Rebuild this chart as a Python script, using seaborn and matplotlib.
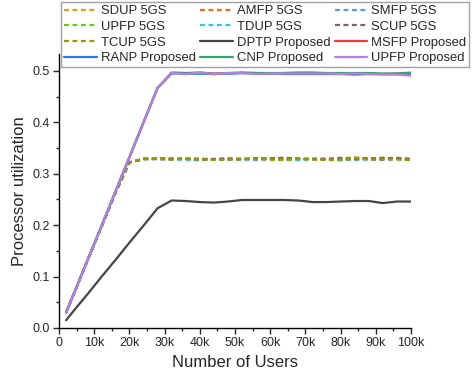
import numpy as np
import pandas as pd
import seaborn as sns
import matplotlib.pyplot as plt
from matplotlib.ticker import MultipleLocator, FuncFormatter

users = [2000, 4000, 8000, 12000, 16000, 20000, 24000, 28000, 32000, 36000, 40000, 44000, 48000,
         52000, 56000, 60000, 64000, 68000, 72000, 76000, 80000, 84000, 88000, 92000, 96000, 100000]

ramp_5gs = [0.030, 0.063, 0.130, 0.196, 0.262, 0.322]
sdup_5gs = ramp_5gs + [0.329, 0.330, 0.330, 0.329, 0.330, 0.328, 0.329, 0.329, 0.330, 0.330, 0.331, 0.329, 0.329, 0.328, 0.330, 0.332, 0.330, 0.331, 0.330, 0.328]
amfp_5gs = ramp_5gs + [0.328, 0.329, 0.329, 0.330, 0.329, 0.328, 0.329, 0.328, 0.330, 0.329, 0.327, 0.329, 0.328, 0.327, 0.326, 0.329, 0.330, 0.331, 0.329, 0.327]
smfp_5gs = ramp_5gs + [0.329, 0.328, 0.327, 0.328, 0.326, 0.328, 0.327, 0.328, 0.327, 0.328, 0.328, 0.327, 0.328, 0.329, 0.328, 0.327, 0.328, 0.327, 0.328, 0.328]
upfp_5gs = ramp_5gs + [0.329, 0.329, 0.328, 0.330, 0.328, 0.327, 0.328, 0.329, 0.329, 0.328, 0.327, 0.328, 0.329, 0.328, 0.327, 0.330, 0.328, 0.329, 0.329, 0.327]
tdup_5gs = ramp_5gs + [0.328, 0.330, 0.329, 0.328, 0.327, 0.328, 0.329, 0.328, 0.329, 0.329, 0.329, 0.328, 0.329, 0.329, 0.328, 0.330, 0.328, 0.329, 0.330, 0.329]
scup_5gs = ramp_5gs + [0.329, 0.330, 0.329, 0.329, 0.328, 0.329, 0.330, 0.329, 0.330, 0.330, 0.331, 0.330, 0.329, 0.329, 0.331, 0.329, 0.330, 0.330, 0.331, 0.329]
tcup_5gs = ramp_5gs + [0.330, 0.329, 0.328, 0.329, 0.328, 0.327, 0.328, 0.328, 0.329, 0.328, 0.328, 0.329, 0.328, 0.327, 0.328, 0.331, 0.328, 0.328, 0.328, 0.327]

dptp_prop = [0.015, 0.032, 0.065, 0.099, 0.132, 0.166, 0.199, 0.233, 0.248, 0.247, 0.245, 0.244, 0.246,
             0.249, 0.249, 0.249, 0.249, 0.248, 0.245, 0.245, 0.246, 0.247, 0.247, 0.243, 0.246, 0.246]
ramp_prop = [0.030, 0.063, 0.130, 0.197, 0.265, 0.332, 0.400, 0.467]
msfp_prop = ramp_prop + [0.497, 0.496, 0.497, 0.495, 0.496, 0.497, 0.496, 0.495, 0.496, 0.496, 0.496, 0.495, 0.496, 0.495, 0.495, 0.494, 0.495, 0.494]
ranp_prop = ramp_prop + [0.496, 0.495, 0.495, 0.494, 0.495, 0.496, 0.495, 0.495, 0.494, 0.494, 0.494, 0.494, 0.494, 0.493, 0.494, 0.494, 0.494, 0.493]
cnp_prop = ramp_prop + [0.495, 0.495, 0.495, 0.494, 0.495, 0.496, 0.496, 0.496, 0.496, 0.497, 0.497, 0.496, 0.496, 0.496, 0.496, 0.495, 0.495, 0.497]
upfp_prop = ramp_prop + [0.496, 0.494, 0.497, 0.494, 0.496, 0.496, 0.494, 0.495, 0.495, 0.495, 0.495, 0.495, 0.494, 0.495, 0.494, 0.493, 0.493, 0.491]

labels = ["SDUP 5GS", "AMFP 5GS", "SMFP 5GS", "UPFP 5GS", "TDUP 5GS", "SCUP 5GS", "TCUP 5GS",
          "DPTP Proposed", "MSFP Proposed", "RANP Proposed", "CNP Proposed", "UPFP Proposed"]
series = [sdup_5gs, amfp_5gs, smfp_5gs, upfp_5gs, tdup_5gs, scup_5gs, tcup_5gs,
          dptp_prop, msfp_prop, ranp_prop, cnp_prop, upfp_prop]
colors = ["#D4A216", "#F26B1D", "#5A9BD8", "#66CC1A", "#1FD0DA", "#8A5E5E", "#999900",
          "#454545", "#F03A3A", "#2D73E8", "#2EA86A", "#B77EE8"]

sns.set_style("ticks")
plt.rcParams['font.family'] = ['Liberation Sans', 'DejaVu Sans']

fig = plt.figure(figsize=(4.75, 3.84), dpi=100)
ax = fig.add_axes([59 / 475, 56 / 384, 352 / 475, 274 / 384])

for lab, vals, col in zip(labels, series, colors):
    ls = (0, (2.2, 1.6)) if "5GS" in lab else "-"
    sns.lineplot(x=users, y=vals, ax=ax, color=col, linestyle=ls, linewidth=1.6, label=lab)

ax.set_xlim(0, 100000)
ax.set_ylim(0, 0.533)
ax.xaxis.set_major_locator(MultipleLocator(10000))
ax.xaxis.set_minor_locator(MultipleLocator(5000))
ax.yaxis.set_major_locator(MultipleLocator(0.1))
ax.yaxis.set_minor_locator(MultipleLocator(0.05))
ax.xaxis.set_major_formatter(FuncFormatter(lambda v, p: "0" if v == 0 else f"{int(v / 1000)}k"))
ax.yaxis.set_major_formatter(FuncFormatter(lambda v, p: f"{v:.1f}"))
ax.tick_params(which="major", length=4, width=1, labelsize=9, direction="out", pad=2.5)
ax.tick_params(which="minor", length=2.5, width=1, direction="out")
for s in ["left", "bottom"]:
    ax.spines[s].set_linewidth(1)
    ax.spines[s].set_color("black")
sns.despine(ax=ax)
ax.set_xlabel("Number of Users", fontsize=12)
ax.set_ylabel("Processor utilization", fontsize=12)

# reorder so legend reads row by row
h, l = ax.get_legend_handles_labels()
order = [0, 3, 6, 9, 1, 4, 7, 10, 2, 5, 8, 11]
leg = ax.legend([h[i] for i in order], [l[i] for i in order], ncol=3,
                loc="upper left", bbox_to_anchor=(61 / 475, 1 - 2 / 384),
                bbox_transform=fig.transFigure, fontsize=9.35, frameon=True,
                fancybox=False, edgecolor="#a0a0a0", framealpha=1,
                handlelength=2.5, handletextpad=0.3, columnspacing=0.35,
                labelspacing=0.27, borderpad=0.25, borderaxespad=0)
leg.get_frame().set_linewidth(1)

fig.savefig("out.png", dpi=100)
